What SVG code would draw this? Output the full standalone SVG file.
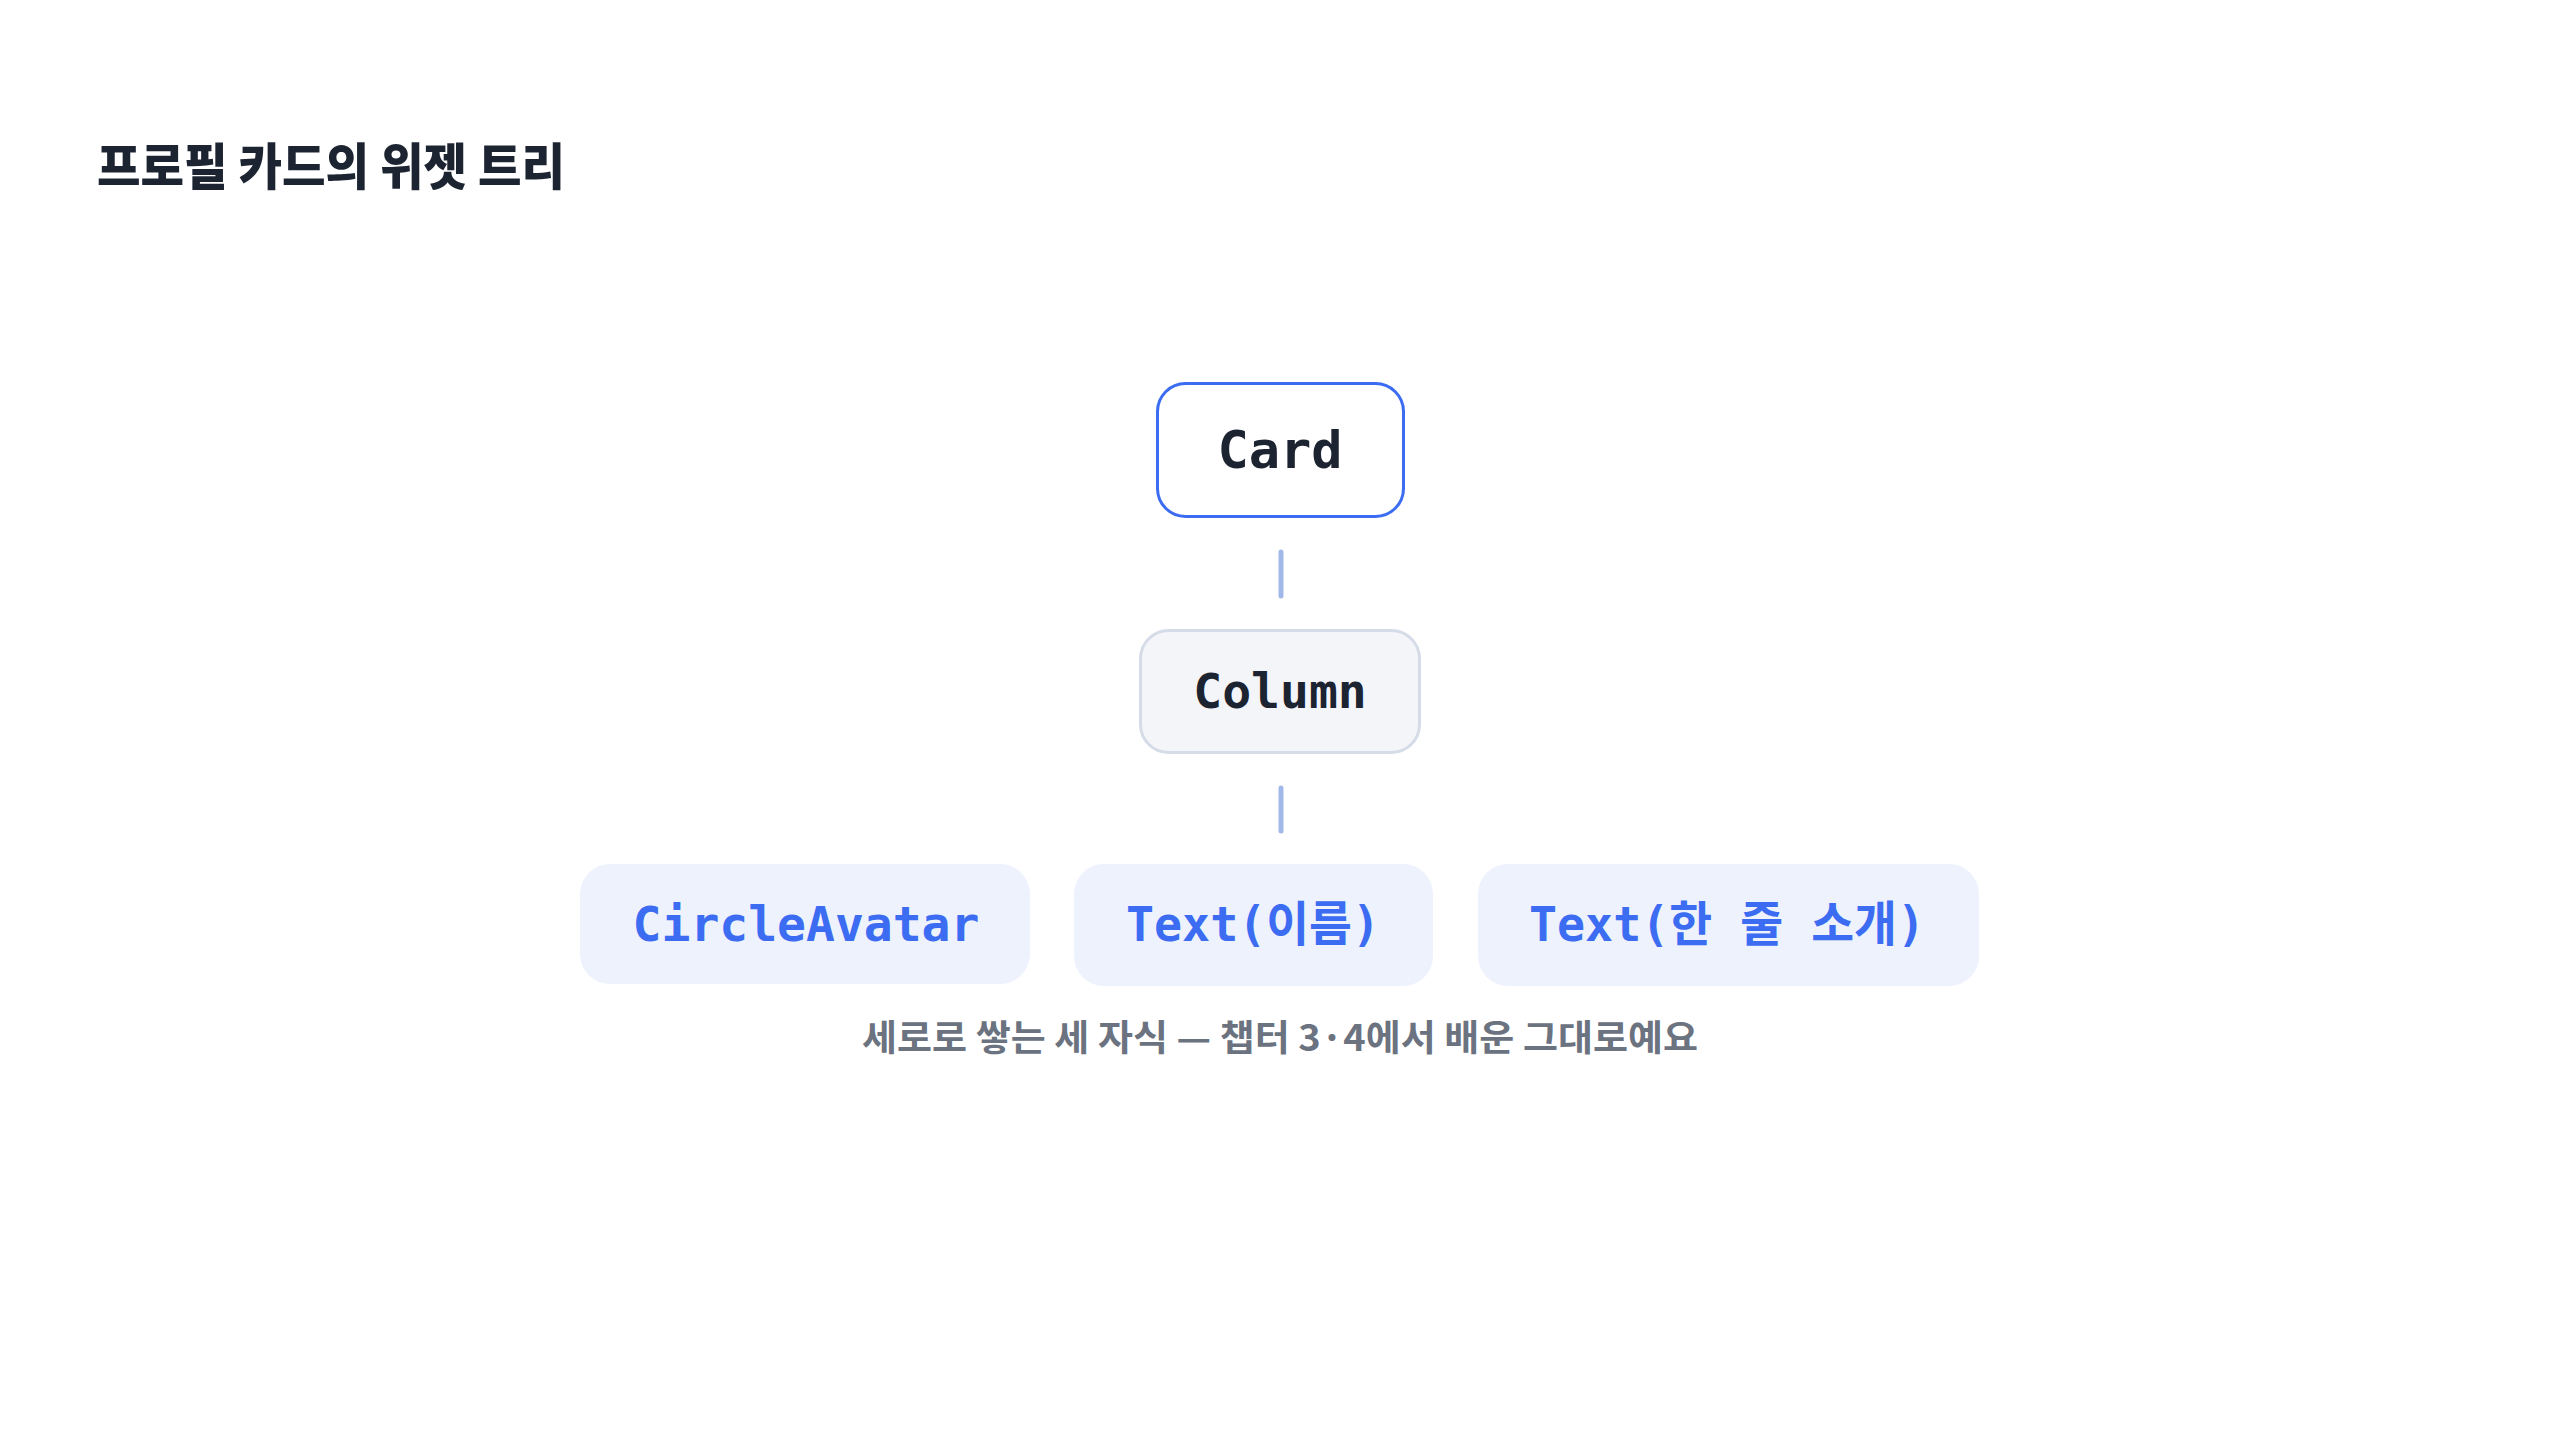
<svg xmlns="http://www.w3.org/2000/svg" width="2560" height="1440" viewBox="0 0 2560 1440">
  <style>
    .mono { font-family: "DejaVu Sans Mono", "Liberation Mono", "Noto Sans CJK KR", monospace; font-weight: 700; text-anchor: middle; }
    .dark { fill: #1c2331; }
    .blue { fill: #3b6cf1; }
    .child { fill: #edf2fd; }
    .conn { stroke: #a0b9e9; stroke-width: 5; stroke-linecap: round; fill: none; }
    .title { font-family: "Noto Sans CJK KR", "Noto Sans", sans-serif; font-weight: 800; font-size: 50px; fill: #1c2331; }
    .caption { font-family: "Noto Sans CJK KR", "Noto Sans", sans-serif; font-weight: 600; font-size: 36px; fill: #6b7280; text-anchor: middle; }
  </style>
  <rect x="0" y="0" width="2560" height="1440" fill="#ffffff"/>
  <text id="title" class="title" x="97" y="185" textLength="468" lengthAdjust="spacingAndGlyphs">프로필 카드의 위젯 트리</text>
  <g id="connectors">
    <line class="conn" x1="1281" y1="552" x2="1281" y2="596"/>
    <line class="conn" x1="1281" y1="788" x2="1281" y2="831"/>
  </g>
  <g id="node-card">
    <rect x="1157.5" y="383.5" width="246" height="133" rx="28" fill="#ffffff" stroke="#3b6cf1" stroke-width="3"/>
    <text class="mono dark" x="1280" y="468" font-size="52">Card</text>
  </g>
  <g id="node-column">
    <rect x="1140.5" y="630.5" width="279" height="122" rx="28" fill="#f3f5f9" stroke="#d5dce8" stroke-width="3"/>
    <text class="mono dark" x="1280" y="708" font-size="48">Column</text>
  </g>
  <g id="node-circleavatar">
    <rect class="child" x="580" y="864" width="450" height="120" rx="30"/>
    <text class="mono blue" x="806" y="941" font-size="48">CircleAvatar</text>
  </g>
  <g id="node-text-name">
    <rect class="child" x="1074" y="864" width="359" height="122" rx="30"/>
    <text class="mono blue" x="1253" y="941" font-size="48" textLength="254" lengthAdjust="spacingAndGlyphs">Text(이름)</text>
  </g>
  <g id="node-text-intro">
    <rect class="child" x="1478" y="864" width="501" height="122" rx="30"/>
    <text class="mono blue" x="1727" y="941" font-size="48" textLength="396" lengthAdjust="spacingAndGlyphs">Text(한 줄 소개)</text>
  </g>
  <text id="caption" class="caption" x="1280" y="1051" textLength="836" lengthAdjust="spacingAndGlyphs">세로로 쌓는 세 자식 — 챕터 3·4에서 배운 그대로예요</text>
</svg>
